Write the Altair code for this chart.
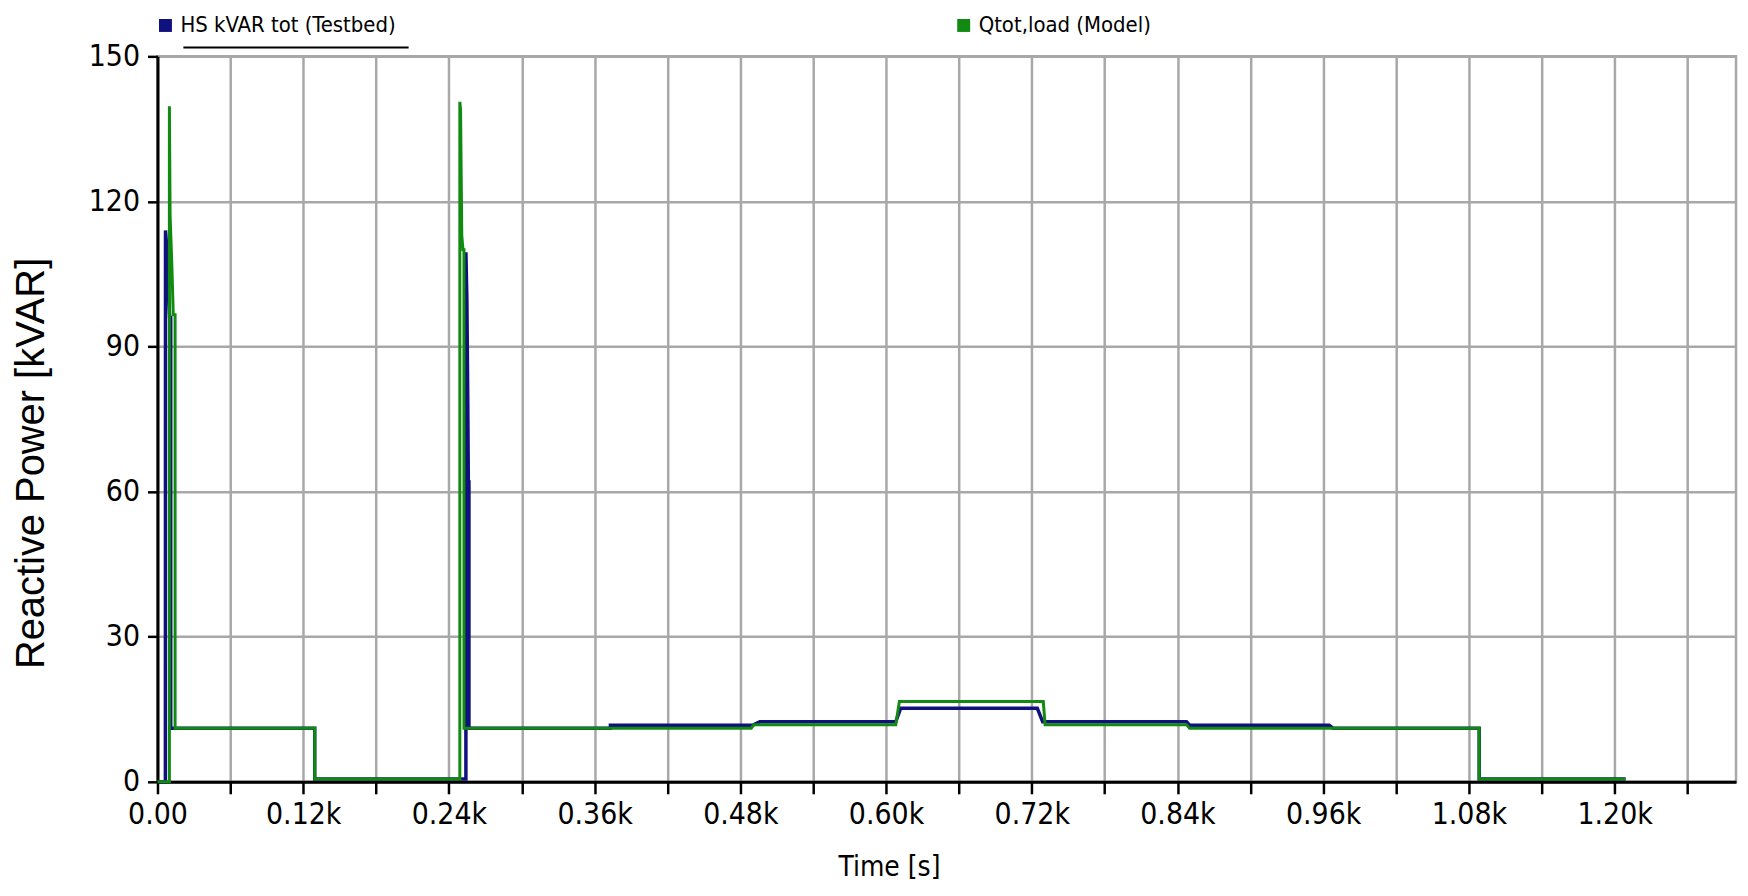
import altair as alt
import pandas as pd

# ---- data ----
series_names = ["HS kVAR tot (Testbed)", "Qtot,load (Model)"]
series_colors = ["#10107f", "#108a10"]

blue_time = [0, 6.5, 6.6, 7.5, 9.0, 10.0, 10.9, 10.9, 129.5, 129.5, 254.0, 254.0,
             254.8, 255.5, 256.0, 256.5, 256.5, 373, 373, 490, 496, 608, 612,
             724.6, 729, 847.5, 850, 965, 968, 1088.5, 1088.5, 1209]
blue_kvar = [0, 0, 114, 111, 102, 96, 96, 11.1, 11.1, 0.6, 0.6, 109.5,
             99.7, 80, 62, 62, 11.1, 11.1, 11.7, 11.7, 12.4, 12.4, 15.2,
             15.2, 12.4, 12.4, 11.7, 11.7, 11.1, 11.1, 0.6, 0.6]

green_time = [0, 9.8, 9.8, 10.4, 11.8, 13.0, 14.5, 14.5, 129.5, 129.5, 249.0, 249.0,
              249.6, 250.6, 251.6, 252.4, 252.4, 489, 491, 608, 611, 729.5, 731,
              847.5, 850, 1088.5, 1088.5, 1209]
green_kvar = [0, 0, 139.7, 117, 107, 96.6, 96.6, 11.1, 11.1, 0.6, 0.6, 140.6,
              139, 113, 110, 110, 11.1, 11.1, 11.8, 11.8, 16.6, 16.6, 11.8,
              11.8, 11.1, 11.1, 0.6, 0.6]

x_ticks = list(range(0, 1261, 60))
y_ticks = [0, 30, 60, 90, 120, 150]

rows = []
for i, (t, v) in enumerate(zip(blue_time, blue_kvar)):
    rows.append({"t": t, "q": v, "series": series_names[0], "idx": i})
for i, (t, v) in enumerate(zip(green_time, green_kvar)):
    rows.append({"t": t, "q": v, "series": series_names[1], "idx": i})
df = pd.DataFrame(rows)

NARROW = "Liberation Sans Narrow, Arial Narrow, DejaVu Sans Condensed, sans-serif"
REG = "Liberation Sans, Arial, sans-serif"
GRID = "#a8a8a8"

x_enc = alt.X(
    "t:Q",
    scale=alt.Scale(domain=[0, 1300], nice=False),
    axis=alt.Axis(
        values=x_ticks,
        labelExpr="datum.value == 0 ? '0.00' : (datum.value % 120 == 0 ? format(datum.value/1000, '.2f') + 'k' : '')",
        labelFlush=False,
        title="Time [s]", titleX=734, titleY=86, titleBaseline="middle", titleAlign="center",
        titleFont=NARROW, titleFontSize=28, titleFontWeight="normal", titleColor="black",
        labelFont=NARROW, labelFontSize=30, labelColor="black", labelPadding=6,
        tickSize=12, tickWidth=2.5, tickColor="black",
        domainColor="black", domainWidth=3,
        grid=True, gridColor=GRID, gridWidth=2.5,
    ),
)
y_enc = alt.Y(
    "q:Q",
    scale=alt.Scale(domain=[0, 150], nice=False),
    axis=alt.Axis(
        values=y_ticks,
        labelFlush=False,
        title="Reactive Power [kVAR]", titleX=-126, titleY=408, titleAngle=270,
        titleBaseline="middle", titleAlign="center",
        titleFont=REG, titleFontSize=40, titleFontWeight="normal", titleColor="black",
        labelFont=NARROW, labelFontSize=30, labelColor="black", labelPadding=8,
        tickSize=10, tickWidth=2.5, tickColor="black",
        domainColor="black", domainWidth=3,
        grid=True, gridColor=GRID, gridWidth=2.5,
    ),
)
color_enc = alt.Color(
    "series:N",
    scale=alt.Scale(domain=series_names, range=series_colors),
    legend=alt.Legend(
        orient="none", legendX=-3, legendY=-42, direction="horizontal", columns=2,
        columnPadding=552, title=None, padding=0,
        symbolType="square", symbolSize=36, symbolStrokeWidth=7,
        labelFont=NARROW, labelFontSize=22, labelColor="black", labelOffset=4,
        labelLimit=500,
    ),
)

blue = alt.Chart(df).transform_filter(alt.datum.series == series_names[0]).mark_line(
    strokeWidth=3.5
).encode(x=x_enc, y=y_enc, color=color_enc, order="idx:Q")
green = alt.Chart(df).transform_filter(alt.datum.series == series_names[1]).mark_line(
    strokeWidth=3
).encode(x=x_enc, y=y_enc, color=color_enc, order="idx:Q")

underline = alt.Chart(pd.DataFrame({"a": [0]})).mark_rule(color="black", strokeWidth=2).encode(
    x=alt.value(26), x2=alt.value(252), y=alt.value(-9)
)

chart = alt.layer(blue, green, underline).properties(
    width=1584, height=728,
    autosize=alt.AutoSizeParams(type="none"),
    padding={"left": 150, "top": 47, "right": 4, "bottom": 102},
    background="white",
).configure_view(stroke=GRID, strokeWidth=2.5)

chart.save("out.html", embed_options={"renderer": "svg", "actions": False})
